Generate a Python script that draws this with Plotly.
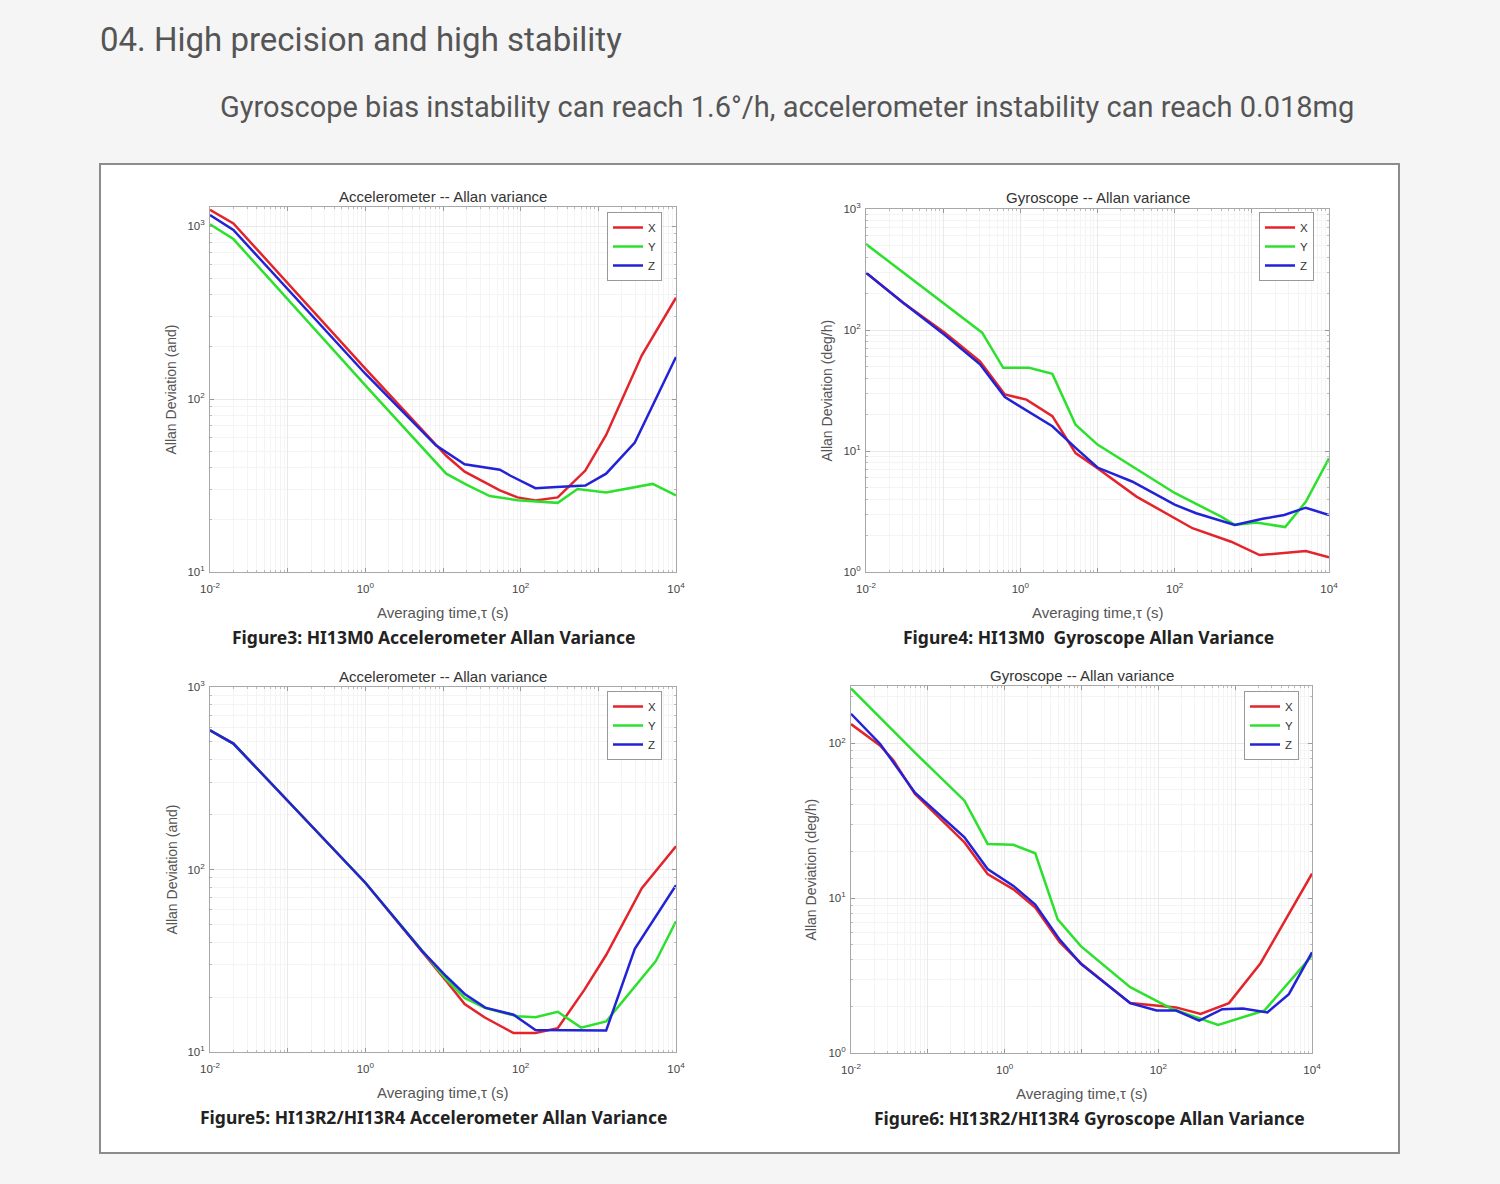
import plotly.graph_objects as go

W, H = 1500, 1184

# Figure3: HI13M0 accelerometer Allan deviation
acc1_tau_x = [0.01, 0.02, 1, 11, 19, 54, 91, 155, 300, 680, 1260, 3630, 10000]
acc1_dev_x = [1240, 1035, 150, 47, 38, 29.6, 27, 25.9, 27, 38.6, 62, 179, 385]
acc1_tau_y = [0.01, 0.02, 1, 11, 20, 40, 91, 300, 540, 1260, 5000, 10000]
acc1_dev_y = [1022, 841, 120, 37, 32, 27.5, 26, 25.1, 30.2, 28.8, 32.3, 27.7]
acc1_tau_z = [0.01, 0.02, 1, 8.1, 19, 54, 74, 155, 290, 680, 1260, 2950, 10000]
acc1_dev_z = [1158, 949, 140, 54, 42, 39, 36, 30.5, 31, 31.6, 37, 56, 175]

# Figure4: HI13M0 gyroscope Allan deviation
gyr1_tau_x = [0.01, 0.03, 0.105, 0.3, 0.63, 1.2, 2.6, 5.2, 10, 32, 170, 540, 1260, 5000, 10000]
gyr1_dev_x = [298, 169, 95, 55, 29.3, 26.6, 19.4, 9.6, 7.2, 4.2, 2.3, 1.78, 1.38, 1.49, 1.32]
gyr1_tau_y = [0.01, 0.32, 0.6, 1.3, 2.6, 5.2, 10, 100, 400, 600, 1150, 2700, 5000, 10000]
gyr1_dev_y = [513, 95, 48.7, 48.7, 43.4, 16.5, 11.3, 4.5, 2.87, 2.45, 2.57, 2.35, 3.8, 8.7]
gyr1_tau_z = [0.01, 0.03, 0.105, 0.3, 0.63, 1.3, 2.6, 5.2, 10, 28, 100, 190, 600, 1380, 2630, 5000, 10000]
gyr1_dev_z = [298, 169, 91, 52, 27.9, 21, 16, 10.6, 7.3, 5.6, 3.6, 3.06, 2.45, 2.75, 2.96, 3.4, 2.96]

# Figure5: HI13R2/HI13R4 accelerometer Allan deviation
acc2_tau_x = [0.01, 0.02, 1, 5.4, 11, 19, 35, 81, 155, 300, 660, 1260, 3630, 10000]
acc2_dev_x = [579, 490, 84.6, 35.7, 24.5, 18.3, 15.4, 12.7, 12.7, 13.5, 21.9, 34, 79, 134]
acc2_tau_y = [0.01, 0.02, 1, 5.4, 11, 19, 35, 91, 155, 300, 600, 1260, 5500, 10000]
acc2_dev_y = [579, 490, 84.6, 35.7, 25, 19.8, 17.4, 15.7, 15.5, 16.6, 13.6, 14.7, 31.5, 52]
acc2_tau_z = [0.01, 0.02, 1, 5.4, 11, 19, 35, 81, 155, 300, 1260, 2950, 10000]
acc2_dev_z = [579, 490, 84.6, 35.7, 26, 20.8, 17.5, 16, 13.2, 13.2, 13.1, 36.8, 82]

# Figure6: HI13R2/HI13R4 gyroscope Allan deviation
gyr2_tau_x = [0.01, 0.024, 0.036, 0.068, 0.3, 0.6, 1.3, 2.5, 5.2, 9.8, 43, 170, 355, 830, 2140, 10000]
gyr2_dev_x = [133, 96.6, 77, 47, 22.9, 14.3, 11.4, 8.7, 5.2, 3.8, 2.1, 1.97, 1.79, 2.1, 3.8, 14.4]
gyr2_tau_y = [0.01, 0.032, 0.068, 0.3, 0.6, 1.3, 2.5, 4.9, 9.8, 43, 150, 600, 2400, 10000]
gyr2_dev_y = [226, 127, 87, 42.6, 22.4, 22.1, 19.5, 7.3, 4.9, 2.66, 1.93, 1.52, 1.88, 4.26]
gyr2_tau_z = [0.01, 0.024, 0.068, 0.3, 0.6, 1.3, 2.5, 5.2, 9.8, 43, 95, 170, 340, 680, 1260, 2630, 5000, 10000]
gyr2_dev_z = [155, 99, 48, 24.7, 15.4, 12, 9.1, 5.4, 3.76, 2.1, 1.88, 1.88, 1.62, 1.92, 1.94, 1.83, 2.4, 4.47]

series_names = ["X", "Y", "Z"]
series_colors = ["#e3242b", "#2ee02e", "#2222d6"]

x_ticks = [0.01, 0.1, 1, 10, 100, 1000, 10000]
x_ticktext = ["10<sup>-2</sup>", "", "10<sup>0</sup>", "", "10<sup>2</sup>", "", "10<sup>4</sup>"]


def px(v):
    return v / W


def py(v):
    return 1 - v / H


panels = [
    dict(data=[(acc1_tau_x, acc1_dev_x), (acc1_tau_y, acc1_dev_y), (acc1_tau_z, acc1_dev_z)],
         box=(210, 676, 207, 572), yr=[1, 3.11], yt=[10, 100, 1000], ytt=["10<sup>1</sup>", "10<sup>2</sup>", "10<sup>3</sup>"],
         title="Accelerometer -- Allan variance", ylab="Allan Deviation (and)", ylabx=171,
         caption="Figure3: HI13M0 Accelerometer Allan Variance", capx=433, legx=662, legy=212),
    dict(data=[(gyr1_tau_x, gyr1_dev_x), (gyr1_tau_y, gyr1_dev_y), (gyr1_tau_z, gyr1_dev_z)],
         box=(866, 1329, 209, 572), yr=[0, 3], yt=[1, 10, 100, 1000],
         ytt=["10<sup>0</sup>", "10<sup>1</sup>", "10<sup>2</sup>", "10<sup>3</sup>"],
         title="Gyroscope -- Allan variance", ylab="Allan Deviation (deg/h)", ylabx=826,
         caption="Figure4: HI13M0  Gyroscope Allan Variance", capx=1088, legx=1314, legy=212),
    dict(data=[(acc2_tau_x, acc2_dev_x), (acc2_tau_y, acc2_dev_y), (acc2_tau_z, acc2_dev_z)],
         box=(210, 676, 687, 1052), yr=[1, 3], yt=[10, 100, 1000], ytt=["10<sup>1</sup>", "10<sup>2</sup>", "10<sup>3</sup>"],
         title="Accelerometer -- Allan variance", ylab="Allan Deviation (and)", ylabx=171,
         caption="Figure5: HI13R2/HI13R4 Accelerometer Allan Variance", capx=433, legx=662, legy=691),
    dict(data=[(gyr2_tau_x, gyr2_dev_x), (gyr2_tau_y, gyr2_dev_y), (gyr2_tau_z, gyr2_dev_z)],
         box=(851, 1312, 686, 1053), yr=[0, 2.37], yt=[1, 10, 100], ytt=["10<sup>0</sup>", "10<sup>1</sup>", "10<sup>2</sup>"],
         title="Gyroscope -- Allan variance", ylab="Allan Deviation (deg/h)", ylabx=810,
         caption="Figure6: HI13R2/HI13R4 Gyroscope Allan Variance", capx=1089, legx=1299, legy=691),
]

minor_vals = [m * 10.0 ** e for e in range(-2, 4) for m in range(2, 10)]

fig = go.Figure()
layout = dict(width=W, height=H, margin=dict(l=0, r=0, t=0, b=0, autoexpand=False),
              paper_bgcolor="#f5f5f5", plot_bgcolor="white", showlegend=True)
annotations = []
sans = "Liberation Sans, Arial"
tick_font = dict(family=sans, size=11.5, color="#444")


def note(text, x, y, font, **kw):
    d = dict(text=text, x=px(x), y=py(y), xref="paper", yref="paper", showarrow=False,
             xanchor="center", yanchor="middle", font=font)
    d.update(kw)
    return d


for i, p in enumerate(panels, start=1):
    sfx = "" if i == 1 else str(i)
    leg = "legend" + sfx
    for (tau, dev), name, col in zip(p["data"], series_names, series_colors):
        fig.add_trace(go.Scatter(x=tau, y=dev, mode="lines", name=name,
                                 line=dict(color=col, width=2.5),
                                 xaxis="x" + sfx, yaxis="y" + sfx, legend=leg))
    x0, x1, y0, y1 = p["box"]
    common = dict(type="log", showline=True, linecolor="#a8a8a8", linewidth=1,
                  mirror="ticks", ticks="inside", ticklen=4, tickcolor="#999", automargin=False,
                  showgrid=True, gridcolor="#e9e9e9", zeroline=False, tickfont=tick_font,
                  minor=dict(tickmode="array", tickvals=minor_vals, ticks="inside", ticklen=2,
                             tickcolor="#bbb", showgrid=True, gridcolor="#f4f4f4"))
    layout["xaxis" + sfx] = dict(common, domain=[px(x0), px(x1)], range=[-2, 4],
                                 tickmode="array", tickvals=x_ticks, ticktext=x_ticktext,
                                 ticklabelstandoff=6, anchor="y" + sfx)
    layout["yaxis" + sfx] = dict(common, domain=[py(y1), py(y0)], range=p["yr"],
                                 tickmode="array", tickvals=p["yt"], ticktext=p["ytt"],
                                 ticklabelstandoff=2, anchor="x" + sfx)
    layout[leg] = dict(x=px(p["legx"]), y=py(p["legy"]), xanchor="right", yanchor="top",
                       bgcolor="white", bordercolor="#999", borderwidth=1,
                       font=dict(family=sans, size=11.5, color="#333"),
                       tracegroupgap=0, itemwidth=30)
    cx = (x0 + x1) / 2
    annotations += [
        note(p["title"], cx, y0 - 11, dict(family=sans, size=15, color="#333")),
        note("Averaging time,τ (s)", cx, y1 + 40, dict(family=sans, size=15, color="#555")),
        note(p["ylab"], p["ylabx"], (y0 + y1) / 2, dict(family=sans, size=14, color="#555"),
             textangle=-90),
        note("<b>" + p["caption"] + "</b>", p["capx"], y1 + 65,
             dict(family="Noto Sans, Open Sans", size=17.5, color="#222")),
    ]

annotations += [
    note("04. High precision and high stability", 98, 40, dict(family="Roboto", size=33, color="#555"),
         xanchor="left"),
    note("Gyroscope bias instability can reach 1.6°/h, accelerometer instability can reach 0.018mg",
         787, 107, dict(family="Roboto", size=29, color="#555")),
]

layout["annotations"] = annotations
layout["shapes"] = [
    dict(type="rect", xref="paper", yref="paper", x0=px(100), x1=px(1399), y0=py(1153), y1=py(164),
         fillcolor="white", line=dict(color="#8c8c8c", width=2), layer="below"),
]

fig.update_layout(**layout)
fig.write_html(
    "out.html",
    config={"displayModeBar": False},
    post_script=(
        "document.body.style.margin='0px';"
        "document.body.style.overflow='hidden';"
        "document.documentElement.style.overflow='hidden';"
    ),
)
